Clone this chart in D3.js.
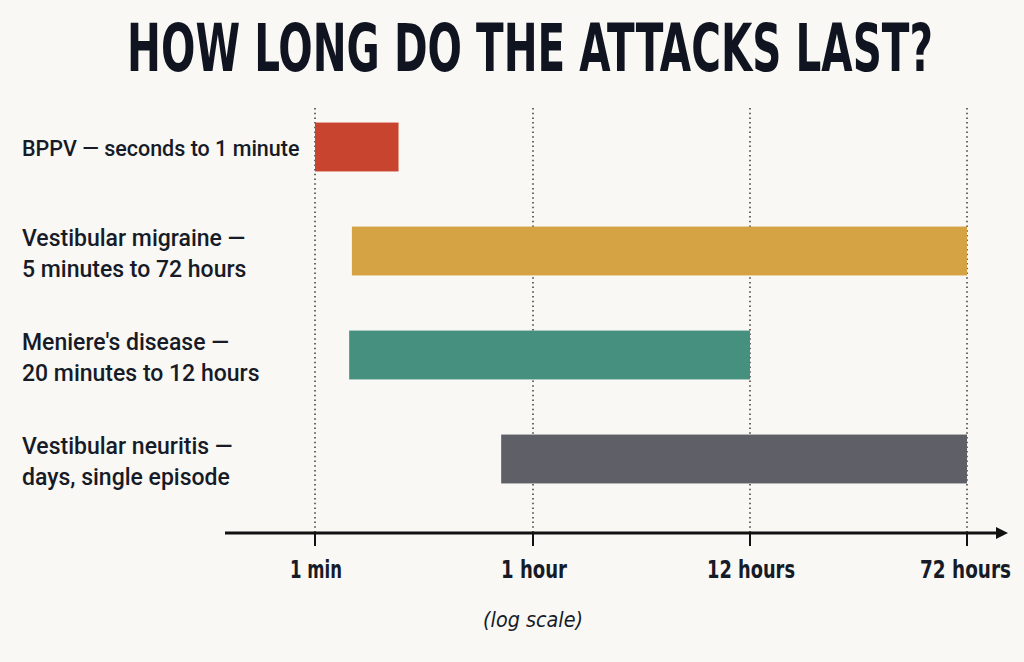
<!DOCTYPE html>
<html><head><meta charset="utf-8">
<script src="https://cdn.jsdelivr.net/npm/d3@7"></script>
<style>
html,body{margin:0;padding:0;background:#f9f8f4;}
svg{display:block;}
</style></head>
<body>
<svg id="c" width="1024" height="662"></svg>
<script>
const categories = ["BPPV", "Vestibular migraine", "Meniere's disease", "Vestibular neuritis"];
const labelLines = [
  ["BPPV — seconds to 1 minute"],
  ["Vestibular migraine —", "5 minutes to 72 hours"],
  ["Meniere's disease —", "20 minutes to 12 hours"],
  ["Vestibular neuritis —", "days, single episode"]
];
// durations in minutes as drawn (start, end)
const startMinutes = [1, 2.0, 1.9, 33];
const endMinutes = [4.8, 4320, 720, 4320];
const colors = ["#c9442f", "#d5a244", "#45907f", "#5f6067"];
const tickMinutes = [1, 60, 720, 4320];
const tickLabels = ["1 min", "1 hour", "12 hours", "72 hours"];
const tickLabelWidths = [52, 66, 88, 91];

const svg = d3.select("#c");
svg.append("rect").attr("width",1024).attr("height",662).attr("fill","#f9f8f4");

const x = d3.scaleLog().domain(tickMinutes).range([315, 533, 750, 967]);
const y = d3.scaleBand().domain(categories).range([95, 511]).paddingInner(0.53).paddingOuter(0.265);
const axisY = 533;
const condensed = "'DejaVu Sans Condensed','Liberation Sans Narrow',sans-serif";

// squeeze a centred text horizontally to a target width
function fitCentered(sel, cx, cy, w){
  sel.attr("x",0).attr("y",0).attr("text-anchor","middle");
  const n = sel.node();
  const nat = n.getComputedTextLength();
  const s = Math.min(1, w / nat);
  sel.attr("transform", `translate(${cx},${cy}) scale(${s},1)`);
}

// title
const title = svg.append("text")
  .attr("font-family",condensed)
  .attr("font-weight","bold").attr("font-size",65).attr("fill","#0f1420")
  .text("HOW LONG DO THE ATTACKS LAST?");
fitCentered(title, 530, 71, 806);

// dotted gridlines
svg.append("g").selectAll("line").data(tickMinutes).join("line")
  .attr("x1", d=>x(d)).attr("x2", d=>x(d)).attr("y1",108).attr("y2",axisY)
  .attr("stroke","#444").attr("stroke-width",1.6).attr("stroke-dasharray","1.5,3.2");

// bars
svg.append("g").selectAll("rect").data(categories).join("rect")
  .attr("x",(d,i)=>x(startMinutes[i]))
  .attr("width",(d,i)=>x(endMinutes[i])-x(startMinutes[i]))
  .attr("y",d=>y(d)).attr("height",y.bandwidth())
  .attr("fill",(d,i)=>colors[i]);

// category labels
const lab = svg.append("g");
categories.forEach((c,i)=>{
  const lines = labelLines[i];
  const cy = y(c) + y.bandwidth()/2;
  const single = lines.length === 1;
  const t = lab.append("text").attr("font-family","Roboto, Inter, sans-serif")
    .attr("font-weight",500).attr("font-size", single ? 21.5 : 23).attr("fill","#161b27");
  lines.forEach((ln,j)=>{
    t.append("tspan").attr("x",22)
      .attr("y", single ? cy + 9 : cy - 5 + j*31)
      .text(ln);
  });
});

// axis
const ax = svg.append("g").attr("transform",`translate(0,${axisY})`);
ax.append("line").attr("x1",225).attr("x2",998).attr("y1",0).attr("y2",0)
  .attr("stroke","#111").attr("stroke-width",3);
ax.append("path").attr("d","M996,-6 L1008,0 L996,6 Z").attr("fill","#111");
ax.selectAll("line.tk").data(tickMinutes).join("line").attr("class","tk")
  .attr("x1",d=>x(d)).attr("x2",d=>x(d)).attr("y1",0).attr("y2",13)
  .attr("stroke","#111").attr("stroke-width",2);
ax.selectAll("text.tl").data(tickMinutes).join("text").attr("class","tl")
  .attr("font-family",condensed)
  .attr("font-weight","bold").attr("font-size",24).attr("fill","#161b27")
  .text((d,i)=>tickLabels[i])
  .each(function(d,i){
    fitCentered(d3.select(this), i===3 ? x(d)-1.5 : x(d)+1, 45, tickLabelWidths[i]);
  });

const ls = svg.append("text")
  .attr("font-family",condensed)
  .attr("font-style","italic").attr("font-size",22).attr("fill","#161b27")
  .text("(log scale)");
fitCentered(ls, 533, 627, 100);
</script>
</body></html>
